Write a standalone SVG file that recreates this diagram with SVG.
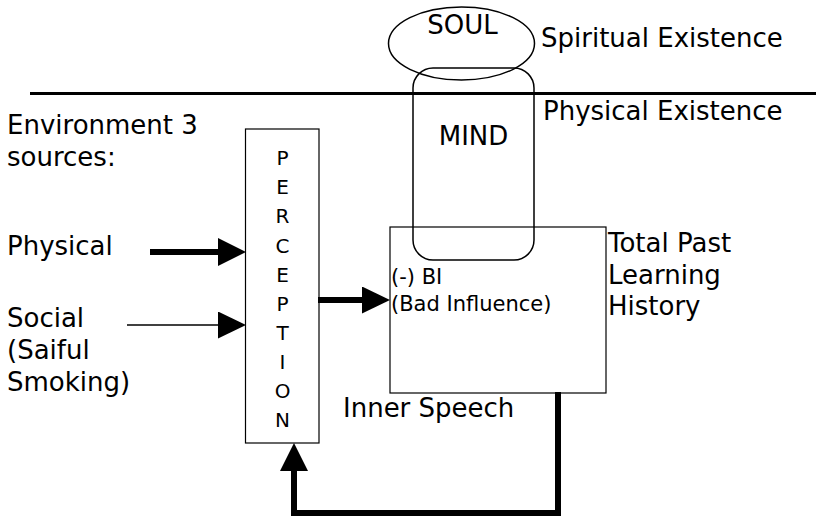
<svg xmlns="http://www.w3.org/2000/svg" width="816" height="516" viewBox="0 0 816 516">
  <style>
    text { font-family: "DejaVu Sans", Verdana, sans-serif; fill: #000; }
    .lbl { font-size: 26px; }
    .small { font-size: 21px; }
    .letter { font-size: 20px; text-anchor: middle; }
    .shape { fill: none; stroke: #000; stroke-width: 1.5; }
    .box { fill: none; stroke: #000; stroke-width: 1.2; }
    .thick { fill: none; stroke: #000; stroke-width: 6; stroke-linejoin: miter; }
    .thin { fill: none; stroke: #000; stroke-width: 1.5; }
  </style>
  <defs>
    <marker id="head" markerUnits="userSpaceOnUse" markerWidth="28" markerHeight="28" refX="0" refY="14" orient="auto" viewBox="0 0 28 28">
      <path d="M0,0 L28,14 L0,28 Z" fill="#000"/>
    </marker>
    <marker id="headSmall" markerUnits="userSpaceOnUse" markerWidth="28" markerHeight="27" refX="0" refY="13.5" orient="auto" viewBox="0 0 28 27">
      <path d="M0,0 L28,13.5 L0,27 Z" fill="#000"/>
    </marker>
  </defs>

  <g id="divider">
    <line x1="30" y1="93.5" x2="816" y2="93.5" stroke="#000" stroke-width="3"/>
    <text class="lbl" x="541" y="47">Spiritual Existence</text>
    <text class="lbl" x="543" y="120">Physical Existence</text>
  </g>

  <g id="soul">
    <ellipse class="shape" cx="461.5" cy="43.5" rx="73" ry="36.5"/>
    <text class="lbl" x="462.5" y="34" text-anchor="middle">SOUL</text>
  </g>

  <g id="environment">
    <text class="lbl" x="7" y="134">Environment 3</text>
    <text class="lbl" x="7" y="166">sources:</text>
  </g>

  <g id="physical">
    <text class="lbl" x="7" y="255">Physical</text>
  </g>

  <g id="social">
    <text class="lbl" x="7" y="327">Social</text>
    <text class="lbl" x="7" y="359">(Saiful</text>
    <text class="lbl" x="7" y="391">Smoking)</text>
  </g>

  <g id="perception">
    <rect class="box" x="245.5" y="129" width="73.5" height="314"/>
    <text class="letter" x="282.5" y="165">P</text>
    <text class="letter" x="282.5" y="194">E</text>
    <text class="letter" x="282.5" y="223">R</text>
    <text class="letter" x="282.5" y="252.5">C</text>
    <text class="letter" x="282.5" y="281.5">E</text>
    <text class="letter" x="282.5" y="310.5">P</text>
    <text class="letter" x="282.5" y="339.5">T</text>
    <text class="letter" x="282.5" y="368.5">I</text>
    <text class="letter" x="282.5" y="397.5">O</text>
    <text class="letter" x="282.5" y="427">N</text>
  </g>

  <g id="total-past-learning-history">
    <rect class="box" x="390" y="227" width="216" height="166"/>
    <text class="small" x="391" y="284">(-) BI</text>
    <text class="small" x="391" y="311">(Bad Influence)</text>
    <text class="lbl" x="608" y="252">Total Past</text>
    <text class="lbl" x="608" y="283.5">Learning</text>
    <text class="lbl" x="608" y="315">History</text>
  </g>

  <g id="mind">
    <rect class="shape" x="413" y="68" width="121" height="192" rx="20" ry="20"/>
    <text class="lbl" x="473.5" y="145" text-anchor="middle">MIND</text>
  </g>

  <g id="inner-speech">
    <text class="lbl" x="343" y="417">Inner Speech</text>
  </g>

  <g id="connectors">
    <line class="thick" x1="150" y1="252" x2="218" y2="252" marker-end="url(#head)"/>
    <line class="thin" x1="127" y1="325" x2="218" y2="325" marker-end="url(#headSmall)"/>
    <line class="thick" x1="318" y1="300" x2="362" y2="300" marker-end="url(#headSmall)"/>
    <polyline class="thick" points="558,392 558,513 294,513 294,471" marker-end="url(#head)"/>
  </g>
</svg>
